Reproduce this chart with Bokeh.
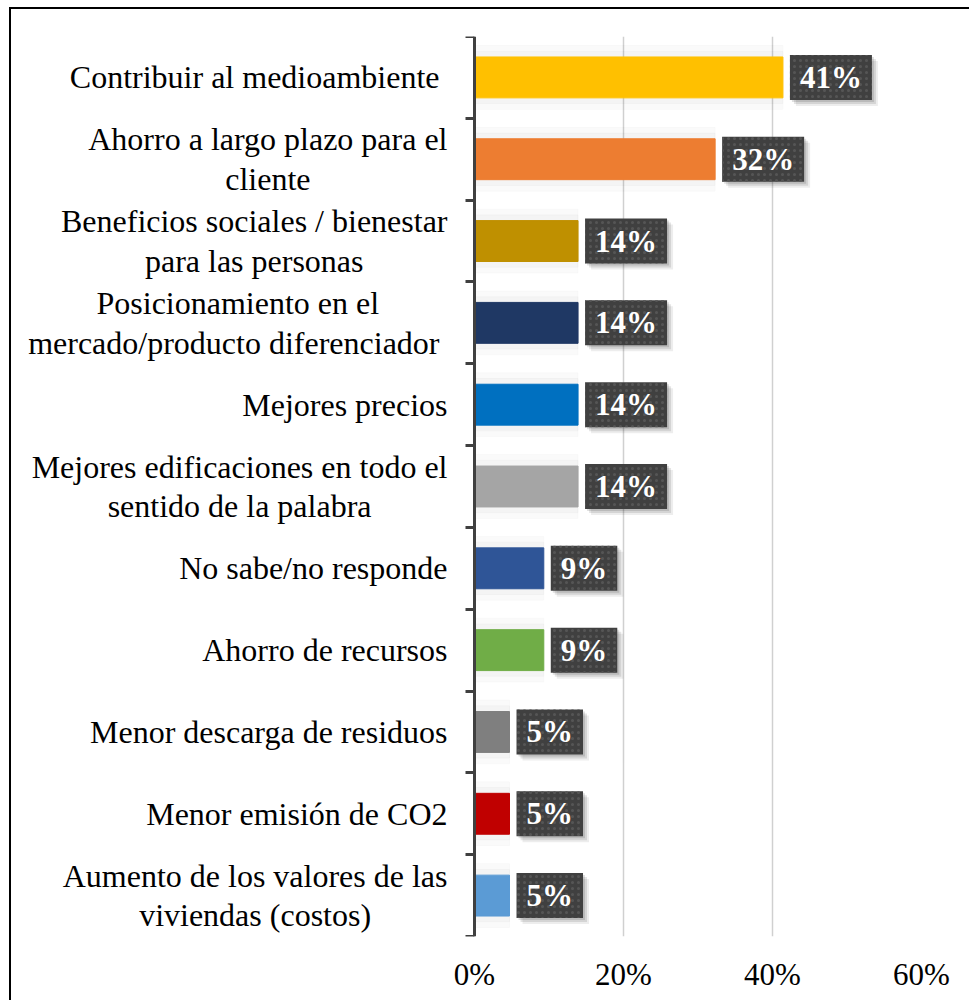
from bokeh.plotting import figure
from bokeh.models import Range1d, FixedTicker, ColumnDataSource
from bokeh.embed import file_html
from bokeh.resources import INLINE
from bokeh.core.properties import value

categories = [
    "Contribuir al medioambiente ",
    "Ahorro a largo plazo para el\ncliente",
    "Beneficios sociales / bienestar\npara las personas",
    "Posicionamiento en el\nmercado/producto diferenciador ",
    "Mejores precios",
    "Mejores edificaciones en todo el\nsentido de la palabra",
    "No sabe/no responde",
    "Ahorro de recursos",
    "Menor descarga de residuos",
    "Menor emisión de CO2",
    "Aumento de los valores de las\nviviendas (costos)",
]
values = [0.414, 0.323, 0.139, 0.139, 0.139, 0.139, 0.093, 0.093, 0.047, 0.047, 0.047]
colors = ["#FFC000", "#ED7D31", "#BF9000", "#1F3864", "#0070C0", "#A5A5A5",
          "#2F5597", "#70AD47", "#7F7F7F", "#C00000", "#5B9BD5"]
x_ticks = [0, 0.2, 0.4, 0.6]
x_tick_labels = ["0%", "20%", "40%", "60%"]

n = len(categories)
ypos = [n - i - 0.5 for i in range(n)]
labels = [f"{round(v * 100)}%" for v in values]

src = ColumnDataSource(dict(y=ypos, v=values, color=colors, label=labels, cat=categories))

FONT = "Liberation Serif"

# the frame also holds the category-name column (left of x=0); the value axis is fixed at x=0
p = figure(width=960, height=993, x_range=Range1d(-0.6, 0.6), y_range=Range1d(0, n),
           output_backend="svg", toolbar_location=None,
           min_border_left=16, min_border_right=50, min_border_top=27, min_border_bottom=66,
           styles={"margin-left": "9px", "margin-top": "7px",
                   "border-left": "2px solid black", "border-top": "2px solid black"})
p.outline_line_color = None
p.background_fill_color = "white"
p.border_fill_color = "white"

# soft glow behind bars
p.hbar(y="y", left=0, right="v", height=0.78, color="black", alpha=0.02, source=src)
p.hbar(y="y", left=0, right="v", height=0.64, color="black", alpha=0.025, source=src)

p.hbar(y="y", left=0, right="v", height=0.5, color="color", source=src)

# label shadows
for off, a in [(6, 0.07), (4, 0.1), (2, 0.12)]:
    p.text(x="v", y="y", text="label", source=src, x_offset=7 + off, y_offset=off,
           text_align="left", text_baseline="middle",
           text_font=value(FONT), text_font_style="bold", text_font_size="31px",
           text_alpha=0, background_fill_color="black", background_fill_alpha=a,
           padding=dict(left=10, right=10, top=5, bottom=5))
# value labels
p.text(x="v", y="y", text="label", source=src, x_offset=7, y_offset=0,
       text_align="left", text_baseline="middle",
       text_font=value(FONT), text_font_style="bold", text_font_size="31px",
       text_color="white", background_fill_color="#404040",
       background_hatch_pattern="dot", background_hatch_color="#555555",
       background_hatch_scale=6, background_hatch_weight=1.2,
       padding=dict(left=10, right=10, top=5, bottom=5))

# category names: block right-aligned to the axis, lines centred within the block
p.text(x=0, y="y", text="cat", source=src, x_offset=-27, anchor="center_right",
       text_align="center", text_baseline="middle",
       text_font=value(FONT), text_font_size="32px", text_color="black",
       text_line_height=1.1)

# y axis at x = 0 with ticks at category boundaries
yax = p.yaxis[0]
yax.fixed_location = 0
yax.ticker = FixedTicker(ticks=[], minor_ticks=list(range(n + 1)))
yax.major_tick_in = 0
yax.major_tick_out = 0
yax.minor_tick_in = 0
yax.minor_tick_out = 9
yax.minor_tick_line_width = 3
yax.minor_tick_line_color = "#404040"
yax.axis_line_width = 3
yax.axis_line_color = "#404040"
yax.major_label_standoff = 0

# x axis
xax = p.xaxis[0]
xax.ticker = FixedTicker(ticks=x_ticks)
xax.major_label_overrides = {t: l for t, l in zip(x_ticks, x_tick_labels)}
xax.axis_line_color = None
xax.major_tick_line_color = None
xax.minor_tick_line_color = None
xax.major_label_standoff = 14
xax.major_label_text_font = FONT
xax.major_label_text_font_size = "31px"
xax.major_label_text_color = "black"

p.ygrid.visible = False
p.xgrid.ticker = FixedTicker(ticks=x_ticks[1:])
p.xgrid.grid_line_color = "#d0d0d0"
p.xgrid.grid_line_width = 1.5

open("out.html", "w").write(file_html(p, INLINE))
